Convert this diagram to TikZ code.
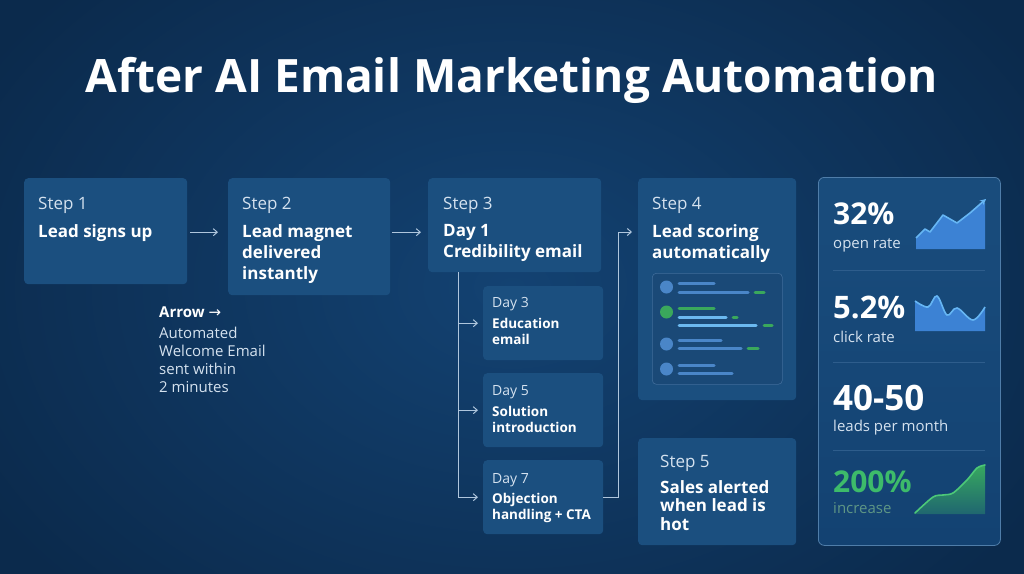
\documentclass[tikz,border=0pt]{standalone}
\usepackage{fontspec}
\setmainfont{Open Sans}
\newfontfamily\symfont{DejaVu Sans}
\usetikzlibrary{arrows.meta,calc}
\definecolor{bgin}{HTML}{134272}
\definecolor{bgout}{HTML}{0B2A4C}
\definecolor{boxc}{HTML}{1B4F7F}
\definecolor{lblc}{HTML}{D5E2EF}
\definecolor{linec}{HTML}{AFC6DD}
\definecolor{panelc}{HTML}{1A4977}
\definecolor{panelb}{HTML}{3F6C9A}
\definecolor{statb}{HTML}{4F7DA9}
\definecolor{divc}{HTML}{2E5D8C}
\definecolor{barb}{HTML}{4A86C8}
\definecolor{barl}{HTML}{6BB9F0}
\definecolor{barg}{HTML}{3AA85C}
\definecolor{areab}{HTML}{3C82D4}
\definecolor{lineb}{HTML}{66B6F4}
\definecolor{greent}{HTML}{3DBB6A}
\definecolor{greenl}{HTML}{4CC878}
\definecolor{incc}{HTML}{5E9685}
\tikzset{
  box/.style={fill=boxc, rounded corners=4pt, inner sep=0, draw=none, anchor=north west},
  lbl/.style={anchor=base west, text=lblc, font=\fontsize{17}{20}\selectfont, inner sep=0},
  ttl/.style={anchor=north west, text=white, font=\bfseries\fontsize{17}{21}\selectfont, align=left, inner sep=0},
  ttlb/.style={ttl, font=\bfseries\fontsize{17}{18.5}\selectfont},
  dlbl/.style={anchor=base west, text=lblc, font=\fontsize{14}{17}\selectfont, inner sep=0},
  dttl/.style={anchor=north west, text=white, font=\bfseries\fontsize{13.5}{16.5}\selectfont, align=left, inner sep=0},
  arr/.style={draw=linec, line width=1pt, -{Straight Barb[length=4pt,width=7pt]}},
  conn/.style={draw=linec, line width=1pt},
  big/.style={anchor=base west, text=white, font=\bfseries\fontsize{30}{34}\selectfont, inner sep=0},
  small/.style={anchor=base west, text=lblc, font=\fontsize{15}{18}\selectfont, inner sep=0},
  bar/.style={line width=3pt, line cap=round},
}
\begin{document}
\begin{tikzpicture}[x=1pt,y=-1pt]
\useasboundingbox (0,0) rectangle (1024,573);
\shade[inner color=bgin, outer color=bgout] (-100,-150) rectangle (1124,723);
% title
\node[text=white, font=\bfseries\fontsize{46}{52}\selectfont, inner sep=0] (title) at (512,80) {After AI Email Marketing Automation};

% step boxes
\node[box, minimum width=163, minimum height=106] (s1) at (24,178) {};
\node[box, minimum width=162, minimum height=117] (s2) at (228,178) {};
\node[box, minimum width=173, minimum height=94] (s3) at (428,178) {};
\node[box, minimum width=158, minimum height=222] (s4) at (638,178) {};
\node[box, minimum width=158, minimum height=107] (s5) at (638,438) {};
\node[box, minimum width=120, minimum height=74] (d3) at (483,286) {};
\node[box, minimum width=120, minimum height=74] (d5) at (483,373) {};
\node[box, minimum width=120, minimum height=74] (d7) at (483,460) {};

% texts
\node[lbl] (s1a) at (38,209) {Step 1};
\node[ttl] (s1b) at (38,224) {Lead signs up};
\node[lbl] (s2a) at (242,209) {Step 2};
\node[ttl] (s2b) at (242,224) {Lead magnet\\delivered\\instantly};
\node[lbl] (s3a) at (443,209) {Step 3};
\node[ttl] (s3b) at (443,224) {Day 1\\Credibility email};
\node[lbl] (s4a) at (652,209) {Step 4};
\node[ttl] (s4b) at (652,224) {Lead scoring\\automatically};
\node[lbl] (s5a) at (660,467) {Step 5};
\node[ttlb] (s5b) at (660,480) {Sales alerted\\when lead is\\hot};
\node[dlbl] (d3a) at (492,307) {Day 3};
\node[dttl] (d3b) at (492,318) {Education\\email};
\node[dlbl] (d5a) at (492,395) {Day 5};
\node[dttl] (d5b) at (492,406) {Solution\\introduction};
\node[dlbl] (d7a) at (492,483) {Day 7};
\node[dttl] (d7b) at (492,493) {Objection\\handling + CTA};

% note
\node[anchor=base west, text=white, font=\bfseries\fontsize{15}{18}\selectfont, inner sep=0] (na) at (159,317) {Arrow {\symfont\mdseries →}};
\node[anchor=north west, text=lblc, font=\fontsize{15}{18}\selectfont, align=left, inner sep=0] (nb) at (159,327) {Automated\\Welcome Email\\sent within\\2 minutes};

% connectors
\draw[arr, shorten <=3pt, shorten >=10pt] ([yshift=-1]s1.east) -- ([yshift=-1]s1.east -| s2.west);
\draw[arr, shorten <=2pt, shorten >=7pt] ([yshift=-1]s1.east -| s2.east) -- ([yshift=-1]s1.east -| s3.west);
\coordinate (trunk) at ([xshift=30]s3.south west);
\draw[conn] (trunk) -- (trunk |- d7.west);
\draw[arr, shorten >=5pt] (trunk |- d3.west) -- (d3.west);
\draw[arr, shorten >=5pt] (trunk |- d5.west) -- (d5.west);
\draw[arr, shorten >=5pt] (trunk |- d7.west) -- (d7.west);
\coordinate (s4in) at ([yshift=-54]s4.north west);
\draw[arr, shorten >=6pt] (d7.east) -- ++(15,0) |- (s4in);

% inner scoring panel
\node[fill=panelc, draw=panelb, line width=0.6pt, rounded corners=4pt, minimum width=130, minimum height=111, anchor=north west, inner sep=0] (pan) at (652,273) {};
\fill[barb] (666.5,287) circle (6.5);
\fill[barg] (666.5,312) circle (6.5);
\fill[barb] (666.5,344) circle (6.5);
\fill[barb] (666.5,369) circle (6.5);
\draw[bar, barb] (679,283) -- (714,283);
\draw[bar, barb] (679,292) -- (748,292);
\draw[bar, barg] (755,292) -- (764,292);
\draw[bar, barg] (679,308) -- (714,308);
\draw[bar, barl] (679,317) -- (726,317);
\draw[bar, barg] (733,317) -- (737,317);
\draw[bar, barl] (679,325) -- (756,325);
\draw[bar, barg] (764,325) -- (772,325);
\draw[bar, barb] (679,340) -- (721,340);
\draw[bar, barb] (679,348) -- (741,348);
\draw[bar, barg] (748,348) -- (758,348);
\draw[bar, barb] (679,365) -- (714,365);
\draw[bar, barb] (679,373) -- (732,373);

% stats panel
\node[draw=statb, line width=0.8pt, rounded corners=6pt, top color=boxc!80!bgin, bottom color=bgin, minimum width=182, minimum height=368, anchor=north west, inner sep=0] (stats) at (818,177) {};
\draw[divc, line width=0.8pt] (833,270) -- (985,270);
\draw[divc, line width=0.8pt] (833,362) -- (985,362);
\draw[divc, line width=0.8pt] (833,450) -- (985,450);
\node[big] (v1) at (833,224) {32\%};
\node[small] (l1) at (833,248) {open rate};
\node[big, font=\bfseries\fontsize{31}{34}\selectfont] (v2) at (833,318) {5.2\%};
\node[small] (l2) at (833,342) {click rate};
\node[big, font=\bfseries\fontsize{35}{40}\selectfont] (v3) at (833,410) {40-50};
\node[small] (l3) at (833,431) {leads per month};
\node[big, text=greent] (v4) at (833,492) {200\%};
\node[small, text=incc] (l4) at (833,513) {increase};

% chart 1
\fill[areab] (916,238) -- (925,229) -- (930,232) -- (943,215) -- (957,223) -- (970,213) -- (982,203) -- (985,203) -- (985,249) -- (916,249) -- cycle;
\draw[lineb, line width=1.6pt, line join=round, -{Stealth[length=6pt,width=6pt]}] (916,238) -- (925,229) -- (930,232) -- (943,215) -- (957,223) -- (970,213) -- (986,199);
% chart 2
\fill[areab] plot[smooth, tension=0.6] coordinates {(915,301) (928,307) (937,296) (947,315) (957,308) (973,320) (985,307)} -- (985,331) -- (915,331) -- cycle;
\draw[lineb, line width=1.6pt] plot[smooth, tension=0.6] coordinates {(915,301) (928,307) (937,296) (947,315) (957,308) (973,320) (985,307)};
% chart 3
\shade[top color=greent!90!black, bottom color=bgin!70!greent] plot[smooth, tension=0.5] coordinates {(915,513) (933,497) (943,495) (953,493) (967,480) (977,468) (985,465)} -- (985,514) -- (915,514) -- cycle;
\draw[greenl, line width=1.6pt, line cap=round] plot[smooth, tension=0.5] coordinates {(915,513) (933,497) (943,495) (953,493) (967,480) (977,468) (985,465)};
\end{tikzpicture}
\end{document}
